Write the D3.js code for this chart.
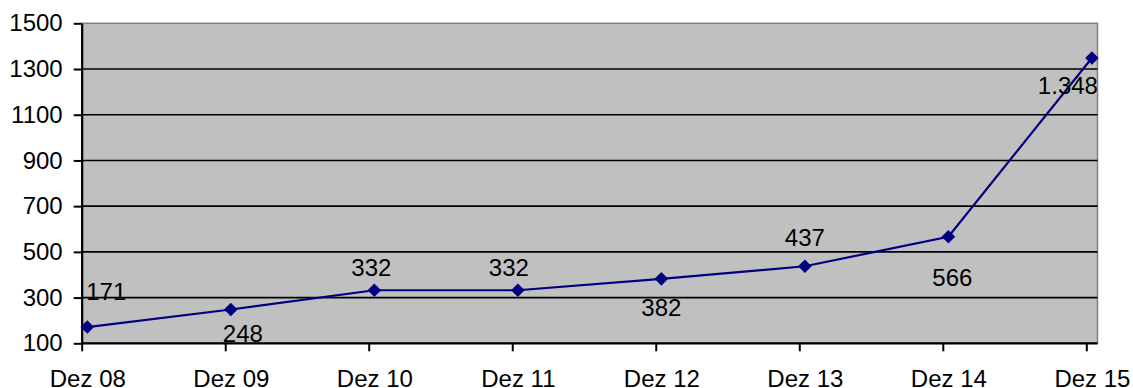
<!DOCTYPE html>
<html>
<head>
<meta charset="utf-8">
<script src="https://cdn.jsdelivr.net/npm/d3@7"></script>
<style>
  html, body { margin: 0; padding: 0; background: #fff; }
  svg { display: block; }
  text { font-family: "Liberation Sans", Arial, sans-serif; fill: #000; }
</style>
</head>
<body>
<svg id="chart" width="1133" height="388"></svg>
<script>
// Year-end values, December 2008 – December 2015
const categories = ["Dez 08", "Dez 09", "Dez 10", "Dez 11", "Dez 12", "Dez 13", "Dez 14", "Dez 15"];
const values = [171, 248, 332, 332, 382, 437, 566, 1348];
const valueLabels = ["171", "248", "332", "332", "382", "437", "566", "1.348"];
const yTicks = [100, 300, 500, 700, 900, 1100, 1300, 1500];

// Placement of each value label relative to its point (dx, dy in px)
const labelOffsets = [[19, -27], [12, 33], [-3, -14], [-9, -14], [0, 37], [0, -20], [4, 49], [-24, 36]];

const svg = d3.select("#chart");
const plot = { left: 81.7, right: 1097.5, top: 23.3, bottom: 343.3 };
const markerInset = 5.6;
const fontSize = 24;

const x = d3.scalePoint()
  .domain(categories)
  .range([plot.left + markerInset, plot.right - markerInset]);

const y = d3.scaleLinear()
  .domain([100, 1500])
  .range([plot.bottom, plot.top]);

// Plot background
svg.append("rect")
  .attr("x", plot.left).attr("y", plot.top)
  .attr("width", plot.right - plot.left).attr("height", plot.bottom - plot.top)
  .attr("fill", "#c0c0c0")
  .attr("stroke", "#808080").attr("stroke-width", 1.5);

// Horizontal gridlines
svg.append("g")
  .selectAll("line")
  .data(yTicks.filter(d => d > 100 && d < 1500))
  .join("line")
  .attr("x1", plot.left).attr("x2", plot.right)
  .attr("y1", d => y(d)).attr("y2", d => y(d))
  .attr("stroke", "#000").attr("stroke-width", 1.6);

// Y axis
const yAxis = svg.append("g")
  .attr("transform", `translate(${plot.left},0)`)
  .call(d3.axisLeft(y).tickValues(yTicks).tickFormat(d3.format("d"))
    .tickSize(8).tickSizeOuter(0).tickPadding(11));
yAxis.select(".domain").attr("stroke", "#000").attr("stroke-width", 2.2);
yAxis.selectAll(".tick line").attr("stroke", "#000").attr("stroke-width", 2);
yAxis.selectAll(".tick text")
  .attr("font-size", fontSize)
  .attr("font-family", "'Liberation Sans', Arial, sans-serif")
  .attr("fill", "#000");

// X axis: ticks sit at the category boundaries, labels centred on the points
const xAxis = svg.append("g")
  .attr("transform", `translate(0,${plot.bottom})`)
  .call(d3.axisBottom(x).tickSize(8).tickSizeOuter(0).tickPadding(19));
xAxis.select(".domain")
  .attr("d", `M${plot.left},0H${plot.right}`)
  .attr("stroke", "#000").attr("stroke-width", 2.2);
xAxis.selectAll(".tick line")
  .attr("x1", -markerInset).attr("x2", -markerInset)
  .attr("stroke", "#000").attr("stroke-width", 2);
xAxis.selectAll(".tick text")
  .attr("font-size", fontSize)
  .attr("font-family", "'Liberation Sans', Arial, sans-serif")
  .attr("fill", "#000");

// Series line
const data = categories.map((c, i) => ({ c, v: values[i], label: valueLabels[i], off: labelOffsets[i] }));

svg.append("path")
  .datum(data)
  .attr("fill", "none")
  .attr("stroke", "#000080")
  .attr("stroke-width", 2.2)
  .attr("d", d3.line().x(d => x(d.c)).y(d => y(d.v)));

// Diamond markers
svg.append("g")
  .selectAll("path")
  .data(data)
  .join("path")
  .attr("transform", d => `translate(${x(d.c)},${y(d.v)})`)
  .attr("d", "M0,-6.8L6.8,0L0,6.8L-6.8,0Z")
  .attr("fill", "#000080");

// Value labels
svg.append("g")
  .selectAll("text")
  .data(data)
  .join("text")
  .attr("x", d => x(d.c) + d.off[0])
  .attr("y", d => y(d.v) + d.off[1])
  .attr("text-anchor", "middle")
  .attr("font-size", fontSize)
  .text(d => d.label);
</script>
</body>
</html>
